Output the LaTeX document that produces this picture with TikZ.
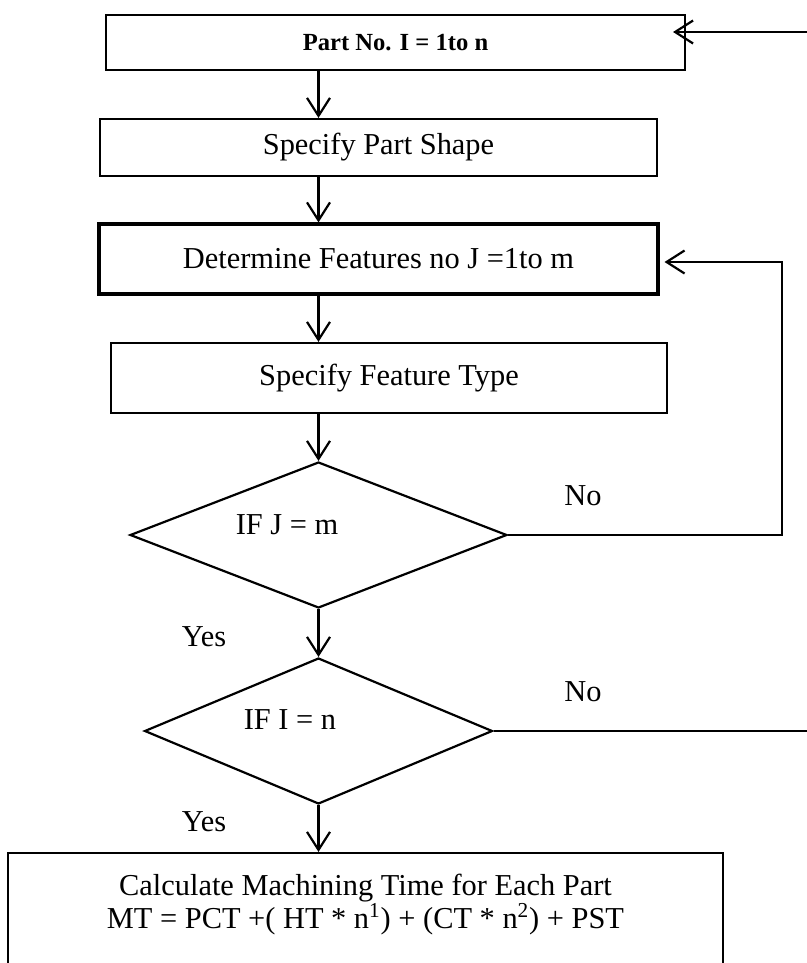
\documentclass[tikz,border=0pt]{standalone}
\usepackage{fontspec}
\setmainfont{Liberation Serif}
\usepackage{tikz}
\usetikzlibrary{positioning, shapes.geometric, arrows.meta}

\begin{document}
\begin{tikzpicture}[x=0.02cm, y=-0.02cm, line width=1.25pt,
        >={Straight Barb[length=0.36cm, width=0.46cm]},
        every node/.style={font=\fontsize{17.3}{19}\selectfont},
        box/.style={draw, rectangle, inner sep=0pt, align=center},
        decision/.style={draw, diamond, inner sep=0pt},
        lbl/.style={inner sep=0pt}]
        \useasboundingbox (0,0) rectangle (807,963);

        \node[box, minimum width=11.58cm, minimum height=1.1cm, font={\fontsize{14}{16}\selectfont\bfseries}] (part) at (395.5,42.5) {Part No. I = 1to n};
        \node[box, minimum width=11.14cm, minimum height=1.14cm] (shape) at (378.5,147.5) {Specify Part Shape};
        \node[box, line width=1.8pt, minimum width=11.18cm, minimum height=1.4cm] (feat) at (378.5,259) {Determine Features no J =1to m};
        \node[box, minimum width=11.12cm, minimum height=1.4cm] (ftype) at (389,378) {Specify Feature Type};
        \node[decision, minimum width=7.54cm, minimum height=2.92cm] (dJ) at (318.5,535) {};
        \node[lbl] (dJtxt) at (287,525) {IF J = m};
        \node[decision, minimum width=6.96cm, minimum height=2.92cm] (dI) at (318.5,731) {};
        \node[lbl] (dItxt) at (290,720) {IF I = n};
        \node[box, minimum width=14.3cm, minimum height=2.6cm] (calc) at (365.5,918) {Calculate Machining Time for Each Part\\ MT = PCT +( HT * n\textsuperscript{1}) + (CT * n\textsuperscript{2}) + PST\\ \mbox{}};

        \node[lbl] (no1) at (583,496) {No};
        \node[lbl] (no2) at (583,692) {No};
        \node[lbl] (yes1) at (204,637) {Yes};
        \node[lbl] (yes2) at (204,822) {Yes};

        \coordinate (r1) at (810,32);
        \coordinate (j1) at (782,535);
        \coordinate (j2) at (782,262);
        \coordinate (r2) at (810,731);

        \path[->] (part.south -| dJ) edge [] node []{} (shape.north -| dJ)
                  (shape.south -| dJ) edge [] node []{} (feat.north -| dJ)
                  (feat.south -| dJ) edge [] node []{} (ftype.north -| dJ)
                  (ftype.south -| dJ) edge [] node []{} (dJ.north)
                  (dJ.south) edge [] node []{} (dI.north)
                  (dI.south) edge [] node []{} (calc.north -| dI);

        \draw[->, shorten >=0.1cm] (dJ.east) -- (j1) -- (j2) -- (feat.east |- j2);
        \draw (dI.east) -- (r2);
        \draw[->, shorten >=-0.26cm] (r1) -- (part.east |- r1);
    \end{tikzpicture}
\end{document}
